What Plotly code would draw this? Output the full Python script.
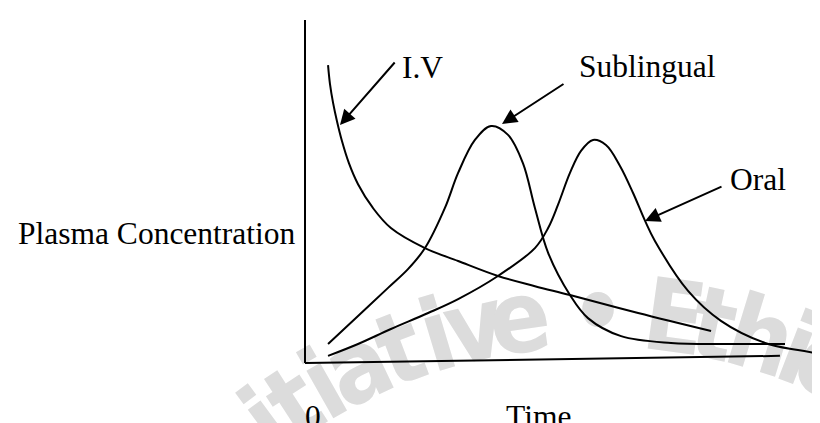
import math
import plotly.graph_objects as go

# ---------------- data (time units, concentration units) ----------------
iv_time = [0.96, 1.04, 1.17, 1.33, 1.54, 1.83, 2.21, 2.83, 3.58, 5.0, 6.38, 8.04, 9.58, 11.04, 13.88, 16.92]
iv_conc = [8.76, 8.21, 7.65, 7.12, 6.53, 5.88, 5.26, 4.56, 3.97, 3.38, 3.0, 2.56, 2.26, 2.0, 1.47, 0.94]

sub_time = [0.96, 2.21, 3.46, 4.29, 5.0, 5.83, 6.38, 7.08, 7.75, 8.46, 9.08, 9.58, 10.13,
            11.04, 11.79, 13.17, 15.25, 17.63, 20.0]
sub_conc = [0.56, 1.38, 2.21, 2.76, 3.38, 4.56, 5.59, 6.56, 6.97, 6.71, 5.88, 4.56, 3.24,
            2.0, 1.32, 0.79, 0.59, 0.56, 0.56]

oral_time = [0.96, 2.21, 3.58, 5.13, 6.38, 8.04, 9.58, 10.13, 10.54, 11.04, 11.5, 12.0, 12.54,
             13.13, 13.67, 14.17, 14.58, 15.96, 17.33, 19.17, 20.54, 22.42]
oral_conc = [0.21, 0.56, 1.0, 1.47, 1.88, 2.56, 3.38, 3.97, 4.65, 5.59, 6.24, 6.56, 6.41,
             5.79, 5.0, 4.18, 3.59, 2.12, 1.24, 0.59, 0.38, 0.18]

axis_x_time = [0, 19.79]
axis_x_conc = [0, 0.21]
axis_y_time = [0, 0]
axis_y_conc = [0, 10.09]

labels = ["I.V", "Sublingual", "Oral"]
y_title = "Plasma Concentration"
x_title = "Time"
origin_label = "0"

watermark_letters = ["I", "n", "i", "t", "i", "a", "t", "i", "v", "e", "•",
                     "E", "t", "h", "i", "o", "p", "i", "a"]
watermark_angles = [-45.5, -41, -36.5, -33, -29.5, -25.5, -20.8, -16.7, -12.8, -8.1, 0,
                    7.9, 12.0, 17.0, 21.0, 24.5, 29, 33, 36]

# ---------------- geometry helpers ----------------
W, H = 820, 423
OX, OY = 297, 355     # pixel of origin
SX, SY = 24.0, 34.0   # pixels per unit
X_RANGE = [-OX / SX, (W - OX) / SX]
Y_RANGE = [-(H - OY) / SY, OY / SY]


def d(xp, yp):
    """pixel position -> data coordinates (used for text/decoration placement)"""
    return (xp - OX) / SX, (OY - yp) / SY


SERIF = "Liberation Serif, Times New Roman, serif"
FS = 31.5

fig = go.Figure()

line_style = dict(color="black", width=2)
fig.add_trace(go.Scatter(x=axis_y_time, y=axis_y_conc, mode="lines", line=line_style, hoverinfo="skip"))
fig.add_trace(go.Scatter(x=axis_x_time, y=axis_x_conc, mode="lines", line=line_style, hoverinfo="skip"))
for t, c in [(iv_time, iv_conc), (sub_time, sub_conc), (oral_time, oral_conc)]:
    fig.add_trace(go.Scatter(x=t, y=c, mode="lines",
                             line=dict(color="black", width=2, shape="spline", smoothing=1.0),
                             hoverinfo="skip"))

# ---------------- watermark (behind the curves) ----------------
shapes = []
CX, CY, R = 590, 862, 565
for ch, ang in zip(watermark_letters, watermark_angles):
    a = math.radians(ang)
    xp = CX + R * math.sin(a)
    yp = CY - R * math.cos(a)
    x0, y0 = d(xp - 1, yp + 1)
    x1, y1 = d(xp + 1, yp - 1)
    shapes.append(dict(type="rect", xref="x", yref="y", x0=x0, y0=y0, x1=x1, y1=y1,
                       line=dict(width=0), layer="below",
                       label=dict(text="<b>" + ch + "</b>", textangle=ang,
                                  textposition="middle center",
                                  font=dict(size=100, color="#dcdcdc",
                                            family="Liberation Sans Narrow, DejaVu Sans Condensed, Arial Narrow, sans-serif"))))

# ---------------- text labels ----------------
ann = []


def text(label, xp, yp, xanchor="left"):
    x, y = d(xp, yp)
    ann.append(dict(x=x, y=y, xref="x", yref="y", text=label, showarrow=False,
                    xanchor=xanchor, yanchor="middle",
                    font=dict(family=SERIF, size=FS, color="black")))


def arrow(tail, tip):
    x, y = d(*tip)
    ax, ay = d(*tail)
    ann.append(dict(x=x, y=y, ax=ax, ay=ay, xref="x", yref="y", axref="x", ayref="y",
                    text="", showarrow=True, arrowhead=2, arrowsize=1.5, arrowwidth=2,
                    arrowcolor="black", standoff=0, startstandoff=0))


text(y_title, 290, 225, "right")
text(labels[0], 392, 59)
text(labels[1], 569, 58)
text(labels[2], 720, 171)
text(origin_label, 305, 408, "center")
text(x_title, 530, 408, "center")

arrow((388, 53), (332, 117))
arrow((557, 75), (494, 116))
arrow((715, 178), (637, 213))

fig.update_layout(
    width=W, height=H,
    margin=dict(l=0, r=0, t=0, b=0),
    paper_bgcolor="white", plot_bgcolor="white",
    showlegend=False,
    xaxis=dict(range=X_RANGE, visible=False, fixedrange=True),
    yaxis=dict(range=Y_RANGE, visible=False, fixedrange=True),
    shapes=shapes,
    annotations=ann,
)

fig.write_html("out.html")
